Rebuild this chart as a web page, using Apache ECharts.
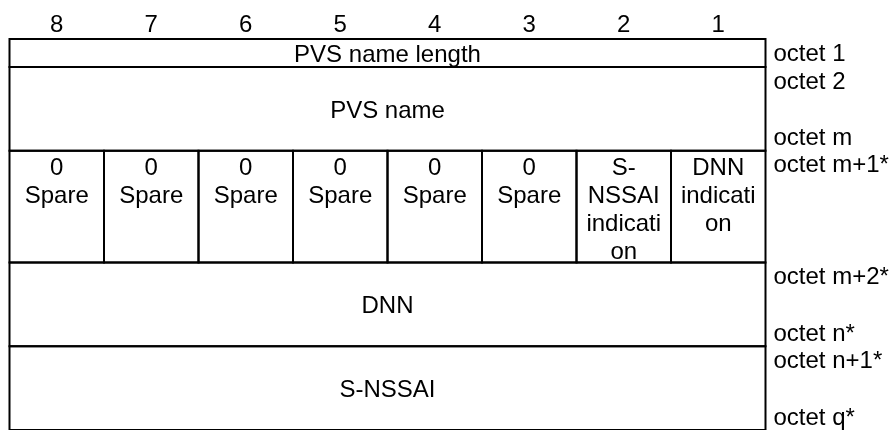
<!DOCTYPE html>
<html>
<head>
<meta charset="utf-8">
<script src="https://cdn.jsdelivr.net/npm/echarts@6/dist/echarts.min.js"></script>
<style>
html,body{margin:0;padding:0;background:#fff;}
#chart{width:891px;height:430px;}
</style>
</head>
<body>
<div id="chart"></div>
<script>
// ---- data ----
const bitLabels = ['8', '7', '6', '5', '4', '3', '2', '1'];
// height of each row, in text lines
const rowLines = [1, 3, 4, 3, 3];
// text of rows that span all 8 bits (null = row split into bit cells)
const rowText = ['PVS name length', 'PVS name', null, 'DNN', 'S-NSSAI'];
// text of the bit cells in the split row (bit 8 .. bit 1)
const flagText = ['0\nSpare', '0\nSpare', '0\nSpare', '0\nSpare', '0\nSpare', '0\nSpare',
                  'S-\nNSSAI\nindicati\non', 'DNN\nindicati\non'];
const octetFirst = ['octet 1', 'octet 2', 'octet m+1*', 'octet m+2*', 'octet n+1*'];
const octetLast  = ['', 'octet m', '', 'octet n*', 'octet q*'];

// ---- build cells ----
const FONT = '24px "Liberation Sans", Arial, sans-serif';
const LH = 28;
const cells = [];      // [x0, x1, y0, y1]
const cellText = [];
const cellTop = [];
const rowSpans = [];   // [y0, y1]
let acc = 0;
rowLines.forEach((n, r) => {
  const y0 = acc, y1 = acc + n;
  rowSpans.push([y0, y1]);
  if (rowText[r] !== null) {
    cells.push([0, 8, y0, y1]); cellText.push(rowText[r]); cellTop.push(false);
  } else {
    flagText.forEach((t, i) => {
      cells.push([i, i + 1, y0, y1]); cellText.push(t); cellTop.push(true);
    });
  }
  acc = y1;
});
const totalLines = acc;

function renderCell(params, api) {
  const p0 = api.coord([api.value(0), api.value(2)]);
  const p1 = api.coord([api.value(1), api.value(3)]);
  const i = params.dataIndex;
  const top = cellTop[i];
  return {
    type: 'group',
    children: [
      { type: 'rect', shape: { x: p0[0], y: p0[1], width: p1[0] - p0[0], height: p1[1] - p0[1] },
        style: { fill: 'none', stroke: '#000', lineWidth: 2 } },
      { type: 'text', x: (p0[0] + p1[0]) / 2, y: top ? p0[1] + 3.5 : (p0[1] + p1[1]) / 2 + 2.5,
        style: { text: cellText[i], fill: '#000', font: FONT, align: 'center',
                 verticalAlign: top ? 'top' : 'middle', lineHeight: LH } }
    ]
  };
}

function renderOctet(params, api) {
  const i = params.dataIndex;
  const a = api.coord([8, api.value(0)]);
  const b = api.coord([8, api.value(1)]);
  const children = [];
  if (octetFirst[i]) children.push({ type: 'text', x: a[0] + 8, y: a[1] + 1,
    style: { text: octetFirst[i], fill: '#000', font: FONT, align: 'left', verticalAlign: 'top', lineHeight: LH } });
  if (octetLast[i]) children.push({ type: 'text', x: b[0] + 8, y: b[1] + 2,
    style: { text: octetLast[i], fill: '#000', font: FONT, align: 'left', verticalAlign: 'bottom', lineHeight: LH } });
  return { type: 'group', children };
}

const chart = echarts.init(document.getElementById('chart'), null, { renderer: 'canvas' });
chart.setOption({
  animation: false,
  backgroundColor: '#fff',
  grid: { left: 9.5, right: 125.5, top: 39, bottom: -4.8 },
  xAxis: [
    { type: 'value', min: 0, max: 8, show: false },
    { type: 'category', data: bitLabels, position: 'top', boundaryGap: true,
      axisLine: { show: false }, axisTick: { show: false }, splitLine: { show: false },
      axisLabel: { color: '#000', fontSize: 24, fontFamily: '"Liberation Sans", Arial, sans-serif', margin: 2 } }
  ],
  yAxis: { type: 'value', min: 0, max: totalLines, inverse: true, show: false },
  series: [
    { type: 'custom', name: 'cells', xAxisIndex: 0, renderItem: renderCell, data: cells,
      encode: { x: [0, 1], y: [2, 3] }, clip: false },
    { type: 'custom', name: 'octets', xAxisIndex: 0, renderItem: renderOctet, data: rowSpans,
      encode: { y: [0, 1] }, clip: false }
  ]
});
</script>
</body>
</html>
